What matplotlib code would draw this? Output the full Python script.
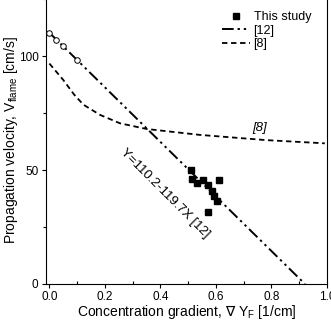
import matplotlib
matplotlib.use("Agg")
import matplotlib.pyplot as plt
import numpy as np
from matplotlib.ticker import MultipleLocator

plt.rcParams['font.family'] = ['Liberation Sans', 'DejaVu Sans']

# Data
circle_x = [0.0, 0.025, 0.05, 0.1]
circle_y = [110.2, 107.2, 104.2, 98.2]

study_x = [0.510, 0.513, 0.530, 0.552, 0.572, 0.584, 0.594, 0.602, 0.571, 0.610]
study_y = [50.1, 46.1, 44.2, 45.7, 43.5, 40.9, 38.7, 36.5, 31.6, 45.8]

ref12_x = [0.0, 0.9206]
ref12_y = [110.2, 0.0]

ref8_x = [0.0, 0.05, 0.089, 0.122, 0.182, 0.254, 0.350, 0.542, 0.782, 0.992]
ref8_y = [96.7, 89.5, 83.1, 78.7, 74.2, 70.5, 68.0, 65.4, 63.1, 61.7]

fig = plt.figure(figsize=(3.31, 3.26), dpi=100)
ax = fig.add_axes([45.5/331, 42/326, (327 - 45.5)/331, 1 - 42/326 + 0.01])

ax.plot(ref12_x, ref12_y, color='black', lw=1.4, dashes=[6, 2, 1.2, 2, 1.2, 2], label='[12]', zorder=2)
ax.plot(ref8_x, ref8_y, color='black', lw=1.3, dashes=[3, 2], label='[8]', zorder=2)
ax.plot(circle_x, circle_y, 'o', ms=4, mfc='white', mec='black', mew=0.7, zorder=3)
ax.plot(study_x, study_y, 's', ms=5, color='black', ls='none', label='This study', zorder=4)

ax.set_xlim(-0.014, 1.0)
ax.set_ylim(0, 126)

ax.xaxis.set_minor_locator(MultipleLocator(0.1))
ax.yaxis.set_major_locator(MultipleLocator(50))
ax.yaxis.set_minor_locator(MultipleLocator(25))
ax.set_xticks([0.0, 0.2, 0.4, 0.6, 0.8, 1.0])
ax.set_xticklabels(['0.0', '0.2', '0.4', '0.6', '0.8', '1.0'])
ax.tick_params(axis='both', which='major', direction='out', length=3, width=0.8, labelsize=8.5, pad=2)
ax.tick_params(axis='x', which='minor', direction='in', length=2, width=0.8)
ax.tick_params(axis='y', which='minor', direction='out', length=2, width=0.8)
for s in ax.spines.values():
    s.set_linewidth(0.8)

ax.set_xlabel(r'Concentration gradient, $\nabla$ Y$_\mathregular{F}$ [1/cm]', fontsize=10, labelpad=0)
ax.set_ylabel(r'Propagation velocity, V$_\mathregular{flame}$ [cm/s]', fontsize=10, labelpad=-1)

ax.text(0.758, 68.3, '[8]', fontsize=9.5, style='italic', ha='center', va='center')
ax.text(0.416, 39.9, 'Y=110.2-119.7X [12]', fontsize=9.5, rotation=-45, ha='center', va='center',
        rotation_mode='anchor')

h, l = ax.get_legend_handles_labels()
order = [2, 0, 1]
ax.legend([h[i] for i in order], [l[i] for i in order], loc='upper right',
          bbox_to_anchor=(0.97, 0.975), frameon=False, fontsize=9,
          handlelength=2.2, handletextpad=0.3, labelspacing=0.1, borderaxespad=0.2)

fig.savefig('out.png', dpi=100)
